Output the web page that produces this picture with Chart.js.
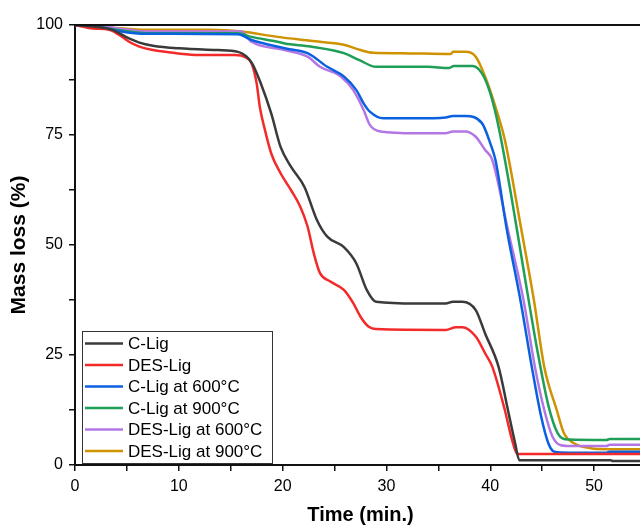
<!DOCTYPE html>
<html>
<head>
<meta charset="utf-8">
<script src="https://cdn.jsdelivr.net/npm/chart.js@4/dist/chart.umd.min.js"></script>
<style>
  html, body { margin: 0; padding: 0; background: #fff; overflow: hidden; }
  /* the original figure runs a little past the right edge of the picture */
  #wrap { width: 652px; height: 527px; }
</style>
</head>
<body>
<div id="wrap"><canvas id="tga"></canvas></div>
<script>
// Series labels and colours (legend order)
const seriesNames = ['C-Lig', 'DES-Lig', 'C-Lig at 600°C', 'C-Lig at 900°C', 'DES-Lig at 600°C', 'DES-Lig at 900°C'];
const seriesColors = ['#3a3a3a', '#f42a2a', '#0b60e0', '#1f9e58', '#b277e4', '#cf9200'];

// Axis ticks
const xTickLabels = [0, 10, 20, 30, 40, 50];
const yTickLabels = [0, 25, 50, 75, 100];

// C-Lig
const cLigTime = [0, 3.6, 4.9, 6.2, 7.5, 10, 13.8, 15.7, 17.0, 17.9, 18.9, 19.8, 20.8, 22.1, 23.3, 24.3, 25.9, 27.1, 28.1, 29.0, 32.9, 35.7, 36.4, 37.3, 38.6, 39.5, 40.8, 41.7, 42.4, 42.8, 51.6, 51.8, 55];
const cLigMass = [100, 98.9, 97.3, 96.0, 95.3, 94.7, 94.3, 93.9, 91.5, 86.7, 79.9, 72.3, 67.8, 63.2, 55.7, 51.9, 49.5, 45.8, 39.8, 37.1, 36.7, 36.7, 37.1, 37.1, 35.2, 29.9, 22.3, 12.5, 4.9, 1.1, 1.1, 0.9, 0.9];

// DES-Lig
const desLigTime = [0, 1.7, 3.3, 4.3, 5.2, 6.2, 7.5, 8.7, 11.6, 15.4, 16.4, 17.0, 17.5, 17.8, 18.3, 18.9, 19.8, 20.8, 21.7, 22.4, 23.0, 23.6, 24.6, 25.9, 26.8, 27.5, 28.3, 29.0, 35.7, 36.7, 37.3, 38.6, 39.5, 40.2, 41.4, 42.1, 42.6, 55];
const desLigMass = [100, 99.2, 98.9, 97.7, 96.2, 95.1, 94.3, 93.9, 93.2, 93.2, 92.7, 91.3, 86.7, 81.4, 76.1, 70.8, 66.3, 62.5, 58.7, 54.2, 48.1, 43.6, 41.7, 39.8, 36.8, 33.7, 31.4, 30.9, 30.7, 31.3, 31.3, 29.2, 25.4, 22.3, 12.5, 5.7, 2.5, 2.5];

// C-Lig at 600°C
const cLig600Time = [0, 2.4, 4.3, 6.8, 15.7, 17.0, 20.2, 22.4, 24.3, 25.9, 27.1, 27.8, 28.4, 29.7, 32.9, 35.7, 36.4, 37.6, 39.2, 40.0, 40.5, 41.6, 42.9, 44.0, 44.9, 45.6, 46.2, 47.6, 51.2, 51.5, 55];
const cLig600Mass = [100, 99.5, 98.6, 98.0, 97.9, 96.6, 94.7, 93.6, 90.5, 88.3, 85.2, 82.2, 80.3, 78.8, 78.8, 79.0, 79.3, 79.3, 77.7, 73.1, 69.3, 53.4, 37.5, 22.3, 11.0, 4.9, 3.0, 2.8, 2.8, 3.0, 3.0];

// C-Lig at 900°C
const cLig900Time = [0, 2.4, 5.2, 7.1, 15.7, 17.0, 19.5, 20.2, 22.7, 25.9, 27.4, 29.0, 34.0, 36.0, 36.5, 38.3, 39.2, 40.0, 40.8, 42.0, 43.2, 44.5, 45.6, 46.5, 47.5, 51.2, 51.5, 55];
const cLig900Mass = [100, 99.5, 98.5, 98.1, 98.1, 97.3, 96.2, 95.8, 95.1, 93.6, 92.0, 90.5, 90.5, 90.2, 90.7, 90.7, 89.0, 84.5, 76.9, 61.5, 44.5, 26.5, 13.5, 7.2, 5.8, 5.7, 5.9, 5.9];

// DES-Lig at 600°C
const desLig600Time = [0, 2.4, 5.2, 6.8, 16.0, 17.0, 20.2, 22.4, 23.6, 25.6, 26.8, 27.8, 28.4, 29.4, 32.9, 35.7, 36.4, 37.6, 38.6, 39.5, 40.2, 41.7, 43.2, 44.3, 45.2, 46.0, 46.8, 48.1, 51.2, 51.5, 55];
const desLig600Mass = [100, 99.7, 98.9, 98.5, 98.5, 96.2, 94.3, 92.8, 90.5, 88.3, 85.2, 80.7, 77.3, 75.8, 75.4, 75.4, 75.8, 75.8, 74.6, 71.6, 69.3, 53.4, 37.5, 22.3, 12.5, 6.4, 4.5, 4.3, 4.3, 4.6, 4.6];

// DES-Lig at 900°C
const desLig900Time = [0, 3.6, 6.8, 13.1, 16.0, 19.5, 22.7, 25.9, 27.5, 28.7, 31.4, 36.2, 36.4, 37.6, 38.6, 39.5, 40.5, 41.4, 43.0, 44.2, 45.2, 46.4, 47.1, 48.1, 49.7, 51.2, 55];
const desLig900Mass = [100, 99.4, 98.9, 98.9, 98.5, 97.3, 96.4, 95.5, 94.3, 93.7, 93.6, 93.4, 93.9, 93.9, 92.8, 88.3, 81.4, 73.9, 53.4, 37.5, 22.3, 12.5, 7.2, 4.9, 3.8, 3.6, 3.6];

const seriesTimes = [cLigTime, desLigTime, cLig600Time, cLig900Time, desLig600Time, desLig900Time];
const seriesMasses = [cLigMass, desLigMass, cLig600Mass, cLig900Mass, desLig600Mass, desLig900Mass];

const FONT = "'Liberation Sans', Arial, sans-serif";

function toPoints(times, masses) {
    return times.map((t, i) => ({ x: t, y: masses[i] }));
}

// Top frame line + legend box inside the plot area
const framePlugin = {
    id: 'frameAndLegend',
    afterDraw(chart) {
        const ctx = chart.ctx;
        const area = chart.chartArea;
        ctx.save();
        ctx.strokeStyle = '#111';
        ctx.lineWidth = 2;
        ctx.beginPath();
        ctx.moveTo(area.left, area.top);
        ctx.lineTo(chart.width, area.top);
        ctx.stroke();

        // legend
        const x0 = area.left + 7, y0 = 331, w = 190, h = 132;
        ctx.fillStyle = '#fff';
        ctx.fillRect(x0, y0, w, h);
        ctx.strokeStyle = '#333';
        ctx.lineWidth = 1;
        ctx.strokeRect(x0 + 0.5, y0 + 0.5, w, h);
        ctx.font = '17px ' + FONT;
        ctx.textBaseline = 'middle';
        chart.data.datasets.forEach((ds, i) => {
            const yy = y0 + 12.5 + i * 21.5;
            ctx.strokeStyle = ds.borderColor;
            ctx.lineWidth = 2.5;
            ctx.beginPath();
            ctx.moveTo(x0 + 3, yy);
            ctx.lineTo(x0 + 41, yy);
            ctx.stroke();
            ctx.fillStyle = '#000';
            ctx.fillText(ds.label, x0 + 46, yy + 1);
        });
        ctx.restore();
    }
};

const datasets = seriesNames.map((name, i) => ({
    label: name,
    data: toPoints(seriesTimes[i], seriesMasses[i]),
    borderColor: seriesColors[i],
    borderWidth: 2.5,
    pointRadius: 0,
    fill: false,
    cubicInterpolationMode: 'monotone'
}));

new Chart(document.getElementById('tga').getContext('2d'), {
    type: 'line',
    data: { datasets: datasets },
    options: {
        responsive: true,
        maintainAspectRatio: false,
        animation: false,
        layout: { padding: { top: 25, right: 0, left: 7, bottom: 0 } },
        plugins: {
            legend: { display: false },
            tooltip: { enabled: false }
        },
        scales: {
            x: {
                type: 'linear',
                min: 0,
                max: 55,
                afterFit: (scale) => { scale.height = 62; },
                border: { color: '#111', width: 2 },
                grid: { drawOnChartArea: false, drawTicks: true, tickLength: 6, color: '#111', lineWidth: 1.5 },
                ticks: {
                    stepSize: 5,
                    maxRotation: 0,
                    autoSkip: false,
                    padding: 6,
                    color: '#000',
                    font: { family: FONT, size: 16 },
                    callback: (v) => xTickLabels.includes(v) ? String(v) : ''
                },
                title: {
                    display: true,
                    text: 'Time (min.)',
                    color: '#000',
                    font: { family: FONT, size: 20, weight: 'bold' },
                    padding: { top: 2, bottom: 0 }
                }
            },
            y: {
                min: 0,
                max: 100,
                afterFit: (scale) => { scale.width = 68; },
                border: { color: '#111', width: 2 },
                grid: { drawOnChartArea: false, drawTicks: true, tickLength: 6, color: '#111', lineWidth: 1.5 },
                ticks: {
                    stepSize: 12.5,
                    autoSkip: false,
                    padding: 6,
                    color: '#000',
                    font: { family: FONT, size: 16 },
                    callback: (v) => yTickLabels.includes(v) ? String(v) : ''
                },
                title: {
                    display: true,
                    text: 'Mass loss (%)',
                    color: '#000',
                    font: { family: FONT, size: 21, weight: 'bold' },
                    padding: { top: 0, bottom: 0 }
                }
            }
        }
    },
    plugins: [framePlugin]
});
</script>
</body>
</html>
